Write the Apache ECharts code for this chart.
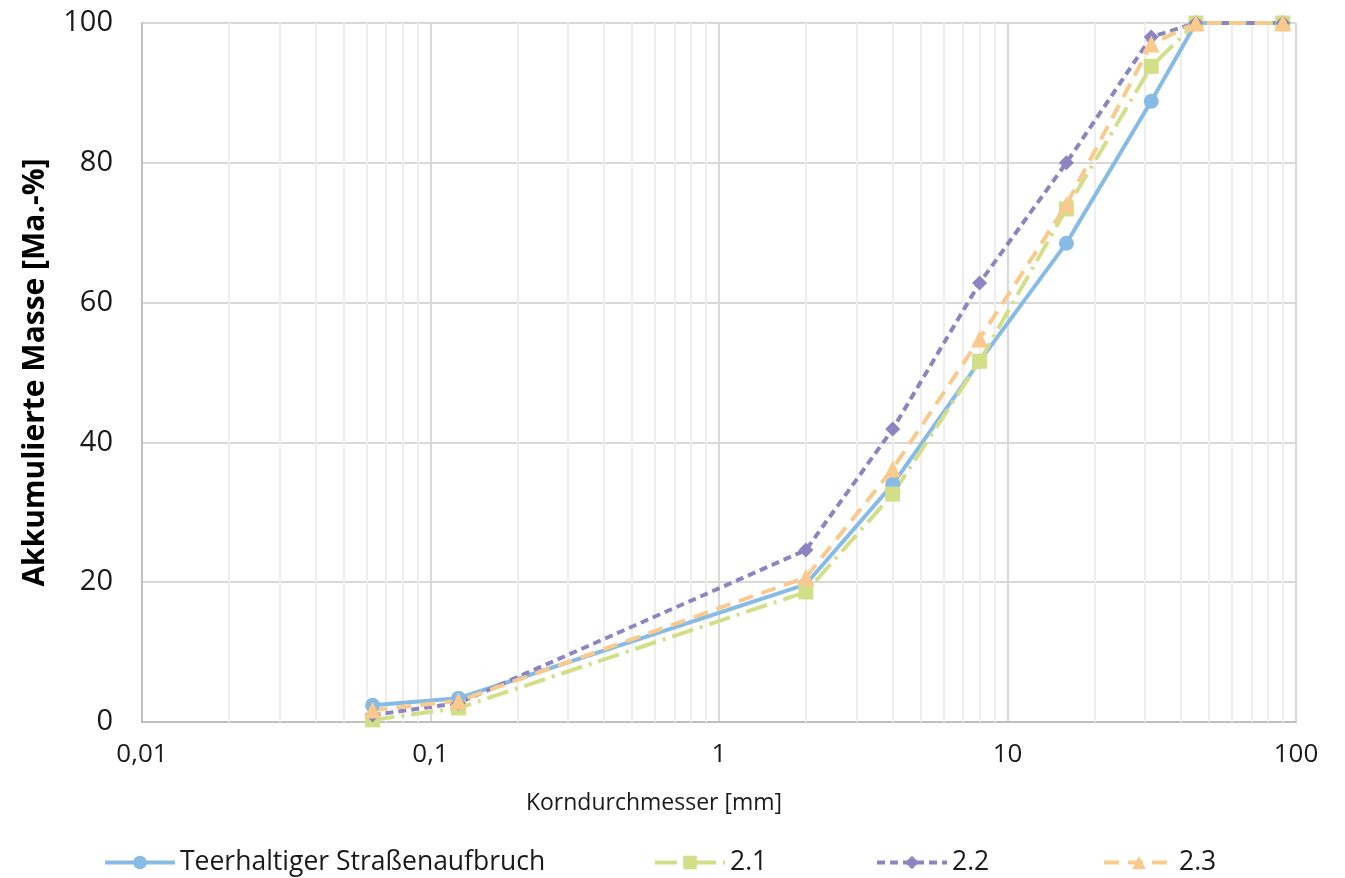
<!DOCTYPE html>
<html><head><meta charset="utf-8">
<script src="https://cdn.jsdelivr.net/npm/echarts@6/dist/echarts.min.js"></script>
<style>html,body{margin:0;padding:0;background:#fff}#c{width:1345px;height:878px}</style>
</head><body><div id="c"></div>
<script>
// Korndurchmesser [mm]
const sieves = [0.063, 0.125, 2, 4, 8, 16, 31.5, 45, 90];
const teer = [2.4, 3.4, 19.7, 34.0, 51.6, 68.5, 88.8, 100, 100];
const s21 = [0.3, 2.0, 18.6, 32.6, 51.6, 73.4, 93.8, 100, 100];
const s22 = [1.0, 2.7, 24.6, 41.9, 62.8, 80.0, 98.0, 100, 100];
const s23 = [1.7, 3.0, 20.7, 36.2, 54.8, 74.0, 97.0, 100, 100];
const seriesNames = ['Teerhaltiger Straßenaufbruch', '2.1', '2.2', '2.3'];
const xTickLabels = {0.01: '0,01', 0.1: '0,1', 1: '1', 10: '10', 100: '100'};
const yTicks = [0, 20, 40, 60, 80, 100];

const FONT = 'Open Sans';
const pair = v => sieves.map((x, i) => [x, v[i]]);

// minor log grid lines (2..9 per decade)
const minorLines = [];
[0.01, 0.1, 1, 10].forEach(d => { for (let k = 2; k <= 9; k++) minorLines.push({xAxis: +(d * k).toPrecision(3)}); });

const chart = echarts.init(document.getElementById('c'), null, {renderer: 'canvas'});
const mk = (name, data, color, symbol, size, type) => ({
  name, type: 'line', data: pair(data), color,
  symbol, symbolSize: size,
  lineStyle: {width: 4, color, type, cap: 'butt'},
  itemStyle: {color},
  z: 3
});
chart.setOption({
  animation: false,
  textStyle: {fontFamily: FONT},
  grid: {left: 142, right: 49, top: 23, bottom: 156},
  xAxis: {
    type: 'log', logBase: 10, min: 0.01, max: 100,
    axisLine: {show: true, lineStyle: {color: '#BFBFBF', width: 2}},
    axisTick: {show: false},
    splitLine: {show: true, lineStyle: {color: '#D9D9D9', width: 2}},
    axisLabel: {fontSize: 26, color: '#1a1a1a', margin: 20, formatter: v => xTickLabels[+v.toPrecision(3)] ?? ''},
    name: 'Korndurchmesser [mm]', nameLocation: 'middle', nameGap: 70,
    nameTextStyle: {fontSize: 23, color: '#1a1a1a', padding: [0, 130, 0, 0]}
  },
  yAxis: {
    type: 'value', min: 0, max: 100, interval: 20,
    axisLine: {show: true, lineStyle: {color: '#BFBFBF', width: 2}},
    axisTick: {show: false},
    splitLine: {show: true, lineStyle: {color: '#D9D9D9', width: 2}},
    axisLabel: {fontSize: 29, color: '#1a1a1a', margin: 29, formatter: v => yTicks.includes(v) ? String(v) : ''},
    name: 'Akkumulierte Masse [Ma.-%]', nameLocation: 'middle', nameGap: 92,
    nameTextStyle: {fontSize: 30, fontWeight: 'bold', color: '#000'}
  },
  legend: [
    {left: 98, data: [seriesNames[0]]},
    {left: 648, data: [seriesNames[1]]},
    {left: 870, data: [seriesNames[2]]},
    {left: 1097, data: [seriesNames[3]]}
  ].map(l => Object.assign(l, {bottom: -3, itemWidth: 70, itemHeight: 17, itemGap: 0,
    lineStyle: {width: 4},
    textStyle: {fontSize: 26.5, color: '#1a1a1a', fontFamily: FONT}})),
  series: [
    {
      type: 'line', data: [], silent: true,
      markLine: {silent: true, symbol: 'none', label: {show: false},
        lineStyle: {color: '#EEEEEE', width: 2, type: 'solid'}, data: minorLines, z: 1},
      z: 1
    },
    mk(seriesNames[0], teer, '#86BBE6', 'circle', 15, 'solid'),
    mk(seriesNames[1], s21, '#D3DF88', 'rect', 15, [22, 7, 3, 7]),
    mk(seriesNames[2], s22, '#8C85C0', 'diamond', 15, [8, 5]),
    mk(seriesNames[3], s23, '#F9C98D', 'triangle', 17, [15, 9])
  ]
});
</script></body></html>
